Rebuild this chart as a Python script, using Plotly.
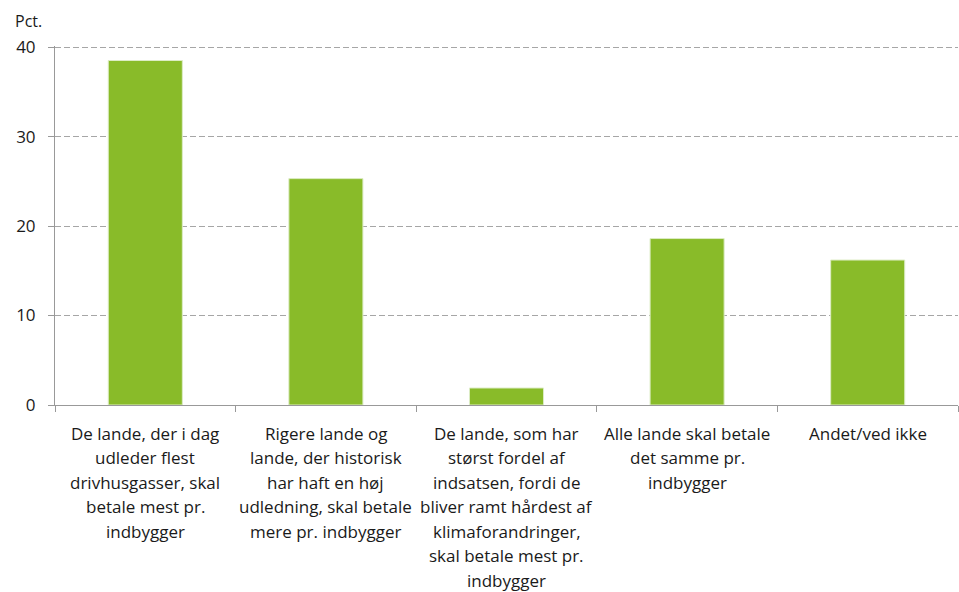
import plotly.graph_objects as go

categories = [
    "De lande, der i dag<br>udleder flest<br>drivhusgasser, skal<br>betale mest pr.<br>indbygger",
    "Rigere lande og<br>lande, der historisk<br>har haft en høj<br>udledning, skal betale<br>mere pr. indbygger",
    "De lande, som har<br>størst fordel af<br>indsatsen, fordi de<br>bliver ramt hårdest af<br>klimaforandringer,<br>skal betale mest pr.<br>indbygger",
    "Alle lande skal betale<br>det samme pr.<br>indbygger",
    "Andet/ved ikke",
]
values = [38.5, 25.3, 1.9, 18.6, 16.2]
y_ticks = [0, 10, 20, 30, 40]
y_title = "Pct."

FONT = "Open Sans"
TXT = "#1a1a1a"
GREEN = "#89BB29"
GRID = "#a6a6a6"

fig = go.Figure()
fig.add_trace(go.Bar(
    x=categories, y=values, width=0.41,
    marker=dict(color=GREEN, line=dict(color="#dcecc4", width=1)),
    hoverinfo="skip",
))

annotations = []
line_gap = 24.5
for cat in categories:
    for i, line in enumerate(cat.split("<br>")):
        annotations.append(dict(
            x=cat, y=0, xref="x", yref="y", text=line, showarrow=False,
            xanchor="center", yanchor="middle", yshift=-(28 + i * line_gap),
            font=dict(family=FONT, size=17, color=TXT),
        ))
annotations.append(dict(
    x=0, y=1, xref="paper", yref="paper", text=y_title, showarrow=False,
    xanchor="right", yanchor="bottom", xshift=-11, yshift=12,
    font=dict(family=FONT, size=16, color=TXT),
))

fig.update_layout(
    width=959, height=592,
    margin=dict(l=55, r=1, t=46, b=187),
    paper_bgcolor="white", plot_bgcolor="white",
    showlegend=False,
    font=dict(family=FONT, size=17, color=TXT),
    annotations=annotations,
    xaxis=dict(
        showticklabels=False, tickson="boundaries", ticks="outside",
        ticklen=6, tickcolor="#999999", showline=True, linecolor="#999999",
        linewidth=1, showgrid=False, zeroline=False,
    ),
    yaxis=dict(
        range=[0, 40.12], tickvals=y_ticks, ticks="outside", ticklen=6,
        tickcolor="#999999", showline=True, linecolor="#999999", linewidth=1,
        showgrid=True, gridcolor=GRID, gridwidth=1, griddash="6px,3px",
        zeroline=False, tickfont=dict(family=FONT, size=17, color=TXT),
        ticklabelstandoff=9,
    ),
    bargap=0.59,
)

fig.write_html(
    "out.html",
    config={"displayModeBar": False},
    post_script="document.body.style.margin='0';document.body.style.overflow='hidden';",
)
